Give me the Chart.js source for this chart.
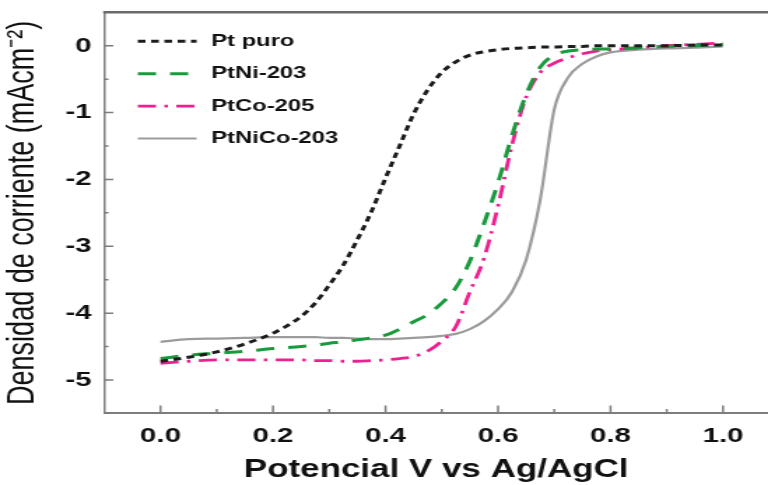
<!DOCTYPE html>
<html>
<head>
<meta charset="utf-8">
<title>Voltametria de barrido lineal</title>
<script src="https://cdn.jsdelivr.net/npm/chart.js@4/dist/chart.umd.min.js"></script>
<style>
  html, body { margin: 0; padding: 0; background: #fff; overflow: hidden; }
  /* the figure is drawn narrow and widened as a whole, text included */
  #wrap { width: 549px; height: 485px; transform: scaleX(1.399); transform-origin: 0 0; }
</style>
</head>
<body>
<div id="wrap"><canvas id="lsv" width="549" height="485"></canvas></div>
<script>
// Potential (V vs Ag/AgCl) and current density (mA cm^-2) for each catalyst
const potential = [0, 0.05, 0.1, 0.15, 0.2, 0.25, 0.275, 0.3, 0.325, 0.35, 0.375, 0.4, 0.425, 0.45, 0.475, 0.5,
                   0.525, 0.55, 0.575, 0.6, 0.625, 0.65, 0.675, 0.7, 0.725, 0.75, 0.775, 0.8, 0.85, 0.9, 0.95, 1.0];
const ptPuro    = [-4.72, -4.66, -4.58, -4.46, -4.30, -4.05, -3.85, -3.58, -3.28, -2.90, -2.48, -1.98, -1.50, -1.02, -0.66, -0.40,
                   -0.24, -0.14, -0.09, -0.06, -0.04, -0.03, -0.02, -0.02, -0.01, -0.01, 0.0, 0.0, 0.0, 0.0, 0.01, 0.01];
const ptNi203   = [-4.68, -4.63, -4.60, -4.57, -4.53, -4.50, -4.48, -4.45, -4.43, -4.40, -4.37, -4.33, -4.24, -4.13, -4.02, -3.85,
                   -3.62, -3.22, -2.66, -2.05, -1.34, -0.73, -0.32, -0.14, -0.08, -0.06, -0.05, -0.05, -0.03, -0.01, 0.0, 0.02];
const ptCo205   = [-4.75, -4.72, -4.70, -4.70, -4.70, -4.70, -4.71, -4.71, -4.72, -4.72, -4.71, -4.70, -4.68, -4.65, -4.57, -4.42,
                   -4.20, -3.68, -3.18, -2.40, -1.48, -0.77, -0.40, -0.26, -0.18, -0.12, -0.08, -0.06, -0.03, 0.0, 0.02, 0.04];
const ptNiCo203 = [-4.43, -4.39, -4.38, -4.37, -4.36, -4.36, -4.36, -4.37, -4.37, -4.38, -4.39, -4.39, -4.38, -4.37, -4.36, -4.34,
                   -4.31, -4.24, -4.12, -3.94, -3.68, -3.20, -2.30, -0.95, -0.47, -0.27, -0.16, -0.10, -0.06, -0.04, -0.03, -0.01];

const seriesNames = ["Pt puro", "PtNi-203", "PtCo-205", "PtNiCo-203"];

const xTicks = [0.0, 0.2, 0.4, 0.6, 0.8, 1.0];
const xMinor = [0.1, 0.3, 0.5, 0.7, 0.9];
const yTicks = [0, -1, -2, -3, -4, -5];
const yMinor = [-0.5, -1.5, -2.5, -3.5, -4.5];

const FONT = '"Liberation Sans", Arial, Helvetica, sans-serif';
const AXIS_COLOR = "#7d7d7d";
const TEXT_COLOR = "#111";

function toPoints(values) {
    return potential.map((x, i) => ({ x: x, y: values[i] }));
}

// ----------------------------
// INWARD TICKS + TOP FRAME
// ----------------------------
const inwardTicks = {
    id: "inwardTicks",
    afterDraw(chart) {
        const { ctx, chartArea: a, scales: { x, y } } = chart;
        ctx.save();
        ctx.strokeStyle = AXIS_COLOR;
        ctx.lineWidth = 1.5;
        ctx.beginPath();
        xTicks.forEach(v => {
            const px = x.getPixelForValue(v);
            ctx.moveTo(px, a.bottom);
            ctx.lineTo(px, a.bottom - 8);
        });
        xMinor.forEach(v => {
            const px = x.getPixelForValue(v);
            ctx.moveTo(px, a.bottom);
            ctx.lineTo(px, a.bottom - 4.5);
        });
        yTicks.forEach(v => {
            const py = y.getPixelForValue(v);
            ctx.moveTo(a.left, py);
            ctx.lineTo(a.left + 6.5, py);
        });
        yMinor.forEach(v => {
            const py = y.getPixelForValue(v);
            ctx.moveTo(a.left, py);
            ctx.lineTo(a.left + 3, py);
        });
        ctx.stroke();

        ctx.strokeStyle = "#6a6a6a";
        ctx.lineWidth = 2.5;
        ctx.beginPath();
        ctx.moveTo(a.left - 0.75, a.top);
        ctx.lineTo(a.right, a.top);
        ctx.stroke();
        ctx.restore();
    }
};

// ----------------------------
// LEGEND INSIDE THE PLOT
// ----------------------------
const insetLegend = {
    id: "insetLegend",
    afterDatasetsDraw(chart) {
        const { ctx, chartArea: a } = chart;
        ctx.save();
        ctx.font = "bold 17px " + FONT;
        ctx.textBaseline = "middle";
        ctx.textAlign = "left";
        chart.data.datasets.forEach((ds, i) => {
            const yy = a.top + 29 + i * 32.4;
            const x0 = a.left + 24;
            ctx.strokeStyle = ds.borderColor;
            ctx.lineWidth = ds.borderWidth;
            ctx.setLineDash(ds.borderDash || []);
            ctx.beginPath();
            ctx.moveTo(x0, yy);
            ctx.lineTo(x0 + 42, yy);
            ctx.stroke();
            ctx.setLineDash([]);
            ctx.fillStyle = TEXT_COLOR;
            ctx.fillText(ds.label, x0 + 52.5, yy);
        });
        ctx.restore();
    }
};

const ctx = document.getElementById("lsv").getContext("2d");

new Chart(ctx, {
    type: "line",
    data: {
        datasets: [
            { label: seriesNames[0], data: toPoints(ptPuro),    borderColor: "#1c1c1c", borderWidth: 3,   borderDash: [5.5, 4] },
            { label: seriesNames[1], data: toPoints(ptNi203),   borderColor: "#199a3c", borderWidth: 3,   borderDash: [13, 10] },
            { label: seriesNames[2], data: toPoints(ptCo205),   borderColor: "#ee2090", borderWidth: 2.8, borderDash: [13, 6, 2.5, 6] },
            { label: seriesNames[3], data: toPoints(ptNiCo203), borderColor: "#9b9b9b", borderWidth: 2.2 }
        ]
    },
    options: {
        responsive: false,
        animation: false,
        devicePixelRatio: 1,
        cubicInterpolationMode: "monotone",
        pointRadius: 0,
        pointHoverRadius: 0,
        layout: { padding: { top: 12.3, right: 0, bottom: 0, left: 0 } },
        plugins: {
            legend: { display: false },
            tooltip: { enabled: false }
        },
        scales: {
            x: {
                type: "linear",
                min: -0.1,
                max: 1.08,
                afterBuildTicks: s => { s.ticks = xTicks.map(v => ({ value: v })); },
                afterFit: s => { s.height = 71.6; s.paddingLeft = 0; s.paddingRight = 0; },
                grid: { drawOnChartArea: false, drawTicks: false },
                border: { color: AXIS_COLOR, width: 2 },
                ticks: {
                    callback: v => Number(v).toFixed(1),
                    color: TEXT_COLOR,
                    font: { family: FONT, size: 21, weight: "bold" },
                    padding: 10,
                    maxRotation: 0,
                    autoSkip: false
                },
                title: {
                    display: true,
                    text: "Potencial V vs Ag/AgCl",
                    color: TEXT_COLOR,
                    font: { family: FONT, size: 25, weight: "bold" },
                    padding: { top: 0, bottom: 0 }
                }
            },
            y: {
                type: "linear",
                min: -5.5,
                max: 0.5,
                afterBuildTicks: s => { s.ticks = yTicks.map(v => ({ value: v })); },
                afterFit: s => { s.width = 74.5; s.paddingTop = 0; s.paddingBottom = 0; },
                grid: { drawOnChartArea: false, drawTicks: false },
                border: { color: AXIS_COLOR, width: 1.5 },
                ticks: {
                    callback: v => String(v),
                    color: TEXT_COLOR,
                    font: { family: FONT, size: 21, weight: "bold" },
                    padding: 9
                },
                title: {
                    display: true,
                    text: "Densidad de corriente (mAcm\u207B\u00B2)",
                    color: TEXT_COLOR,
                    font: { family: FONT, size: 27, weight: "normal" },
                    padding: 0
                }
            }
        }
    },
    plugins: [inwardTicks, insetLegend]
});
</script>
</body>
</html>
